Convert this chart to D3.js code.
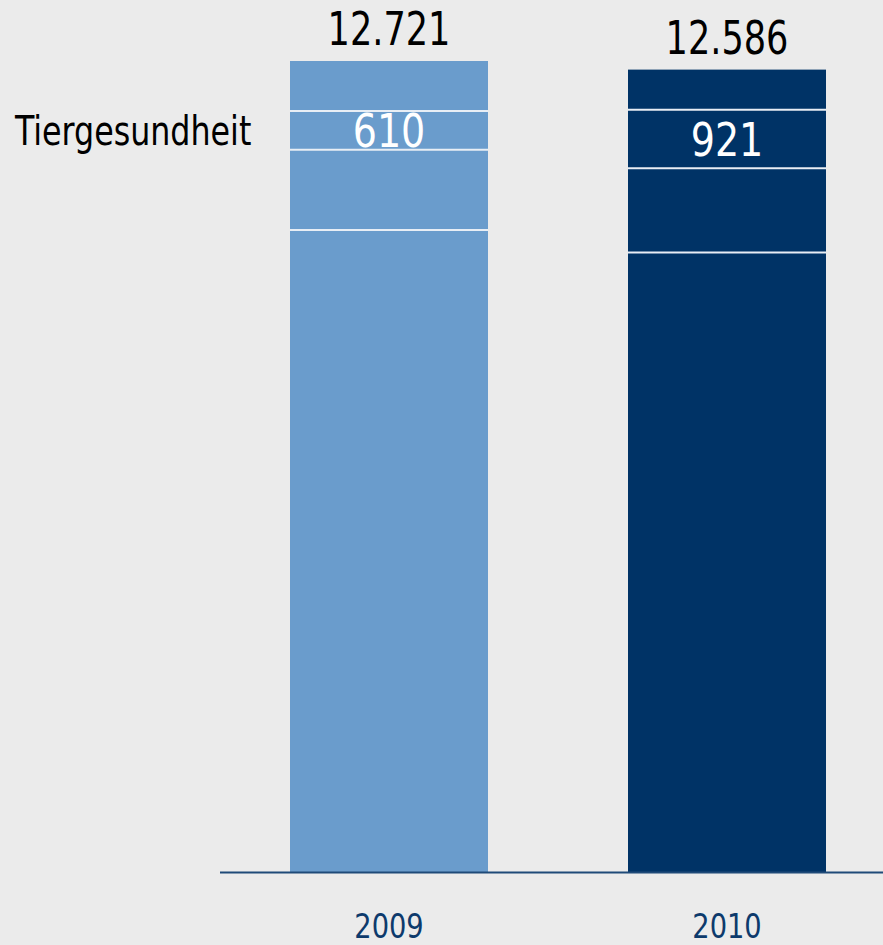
<!DOCTYPE html>
<html>
<head>
<meta charset="utf-8">
<script src="https://cdn.jsdelivr.net/npm/d3@7"></script>
<style>
  html, body { margin: 0; padding: 0; background: #ebebeb; }
  svg { display: block; }
  text { font-family: "Liberation Sans Narrow", "DejaVu Sans Condensed", "Roboto", sans-serif; }
</style>
</head>
<body>
<div id="chart"></div>
<script>
// DATA
const years = ["2009", "2010"];
const totals = [12721, 12586];
// stacked segments, bottom to top (only the third one is named in the chart)
const segmentNames = ["Seg1", "Seg2", "Tiergesundheit", "Seg4"];
const values2009 = [10072, 1255, 610, 784];
const values2010 = [9719, 1318, 921, 628];
const barColors = ["#6a9ccc", "#003366"];
const labelledSegment = "Tiergesundheit";

const width = 883, height = 945;
const baseline = 872;
const fmt = v => d3.format(",")(v).replace(/,/g, ".");

const svg = d3.select("#chart").append("svg")
    .attr("width", width)
    .attr("height", height);

svg.append("rect")
    .attr("width", width).attr("height", height)
    .attr("fill", "#ebebeb");

const x = d3.scaleBand()
    .domain(years)
    .range([220, 896])
    .paddingInner(140 / 338)
    .paddingOuter(70 / 338);

const y = d3.scaleLinear()
    .domain([0, 12721])
    .range([baseline, 61]);

const rows = years.map((yr, i) => {
    const vals = i === 0 ? values2009 : values2010;
    let acc = 0;
    const segs = vals.map((v, j) => {
        const s = { name: segmentNames[j], y0: acc, y1: acc + v, value: v };
        acc += v;
        return s;
    });
    return { year: yr, total: totals[i], color: barColors[i], segs: segs };
});

const gBar = svg.selectAll("g.bar")
    .data(rows)
    .join("g")
    .attr("class", "bar")
    .attr("transform", d => `translate(${x(d.year)},0)`);

gBar.selectAll("rect")
    .data(d => d.segs.map(s => Object.assign({ color: d.color }, s)))
    .join("rect")
    .attr("x", 0)
    .attr("width", x.bandwidth())
    .attr("y", d => y(d.y1))
    .attr("height", d => y(d.y0) - y(d.y1))
    .attr("fill", d => d.color);

// white separator lines between segments
gBar.selectAll("line.sep")
    .data(d => d.segs.slice(0, -1))
    .join("line")
    .attr("class", "sep")
    .attr("x1", 0)
    .attr("x2", x.bandwidth())
    .attr("y1", d => y(d.y1))
    .attr("y2", d => y(d.y1))
    .attr("stroke", "#e8eef5")
    .attr("stroke-width", 2);

// value inside the labelled segment (condensed a bit, the original font is narrow)
gBar.selectAll("text.val")
    .data(d => d.segs.filter(s => s.name === labelledSegment))
    .join("text")
    .attr("class", "val")
    .attr("transform", d => `translate(${x.bandwidth() / 2},${(y(d.y0) + y(d.y1)) / 2}) scale(0.92,1)`)
    .attr("dy", "0.36em")
    .attr("text-anchor", "middle")
    .attr("fill", "#ffffff")
    .style("font-size", "46px")
    .text(d => fmt(d.value));

// totals above bars
gBar.append("text")
    .attr("transform", d => `translate(${x.bandwidth() / 2},${y(d.total) - 16}) scale(0.83,1)`)
    .attr("text-anchor", "middle")
    .attr("fill", "#000")
    .style("font-size", "47px")
    .text(d => fmt(d.total));

// segment name on the left
const tg = rows[0].segs.find(s => s.name === labelledSegment);
svg.append("text")
    .attr("transform", `translate(15,${(y(tg.y0) + y(tg.y1)) / 2}) scale(0.86,1)`)
    .attr("dy", "0.36em")
    .attr("fill", "#000")
    .style("font-size", "41px")
    .text(labelledSegment);

// axis
const axis = svg.append("g")
    .attr("transform", `translate(0,${baseline})`)
    .call(d3.axisBottom(x).tickSize(0).tickPadding(0));

axis.select(".domain").remove();
axis.append("line")
    .attr("x1", 220).attr("x2", width)
    .attr("y1", 0.5).attr("y2", 0.5)
    .attr("stroke", "#1f4a78")
    .attr("stroke-width", 2);

axis.selectAll(".tick text")
    .attr("y", null)
    .attr("dy", null)
    .attr("transform", "translate(0,66) scale(0.92,1)")
    .attr("fill", "#0d3a6c")
    .style("font-size", "33px");
</script>
</body>
</html>
